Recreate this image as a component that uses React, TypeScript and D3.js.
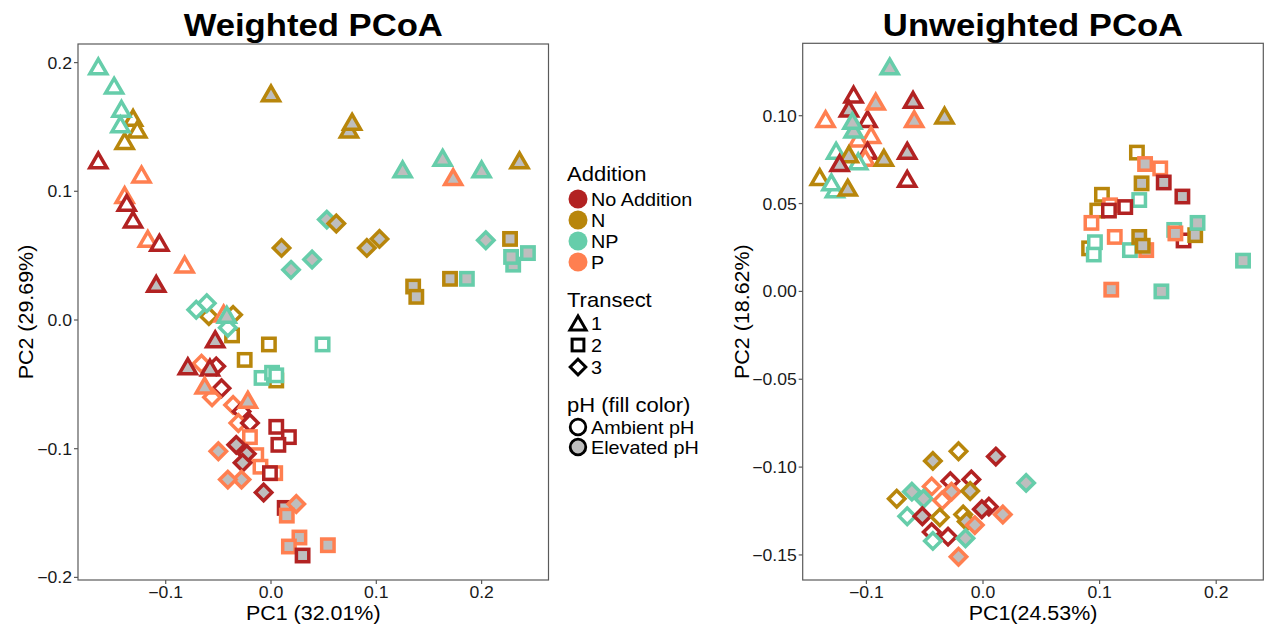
import React from "react";
import * as d3 from "d3";

type Pt = [number, number, string, number, string];

const additionLevels = ["No", "N", "NP", "P"];
const additionLabels = ["No Addition", "N", "NP", "P"];
const additionColors = ["#B22222", "#B8860B", "#66CDAA", "#FF7F50"];
const transectLevels = [1, 2, 3];
const phLevels = ["A", "E"];
const phLabels = ["Ambient pH", "Elevated pH"];
const phFills = ["#FFFFFF", "#BEBEBE"];

const weightedXTicks = [-0.1, 0, 0.1, 0.2];
const weightedYTicks = [-0.2, -0.1, 0, 0.1, 0.2];
const unweightedXTicks = [-0.1, 0, 0.1, 0.2];
const unweightedYTicks = [-0.15, -0.1, -0.05, 0, 0.05, 0.1];

// [PC1, PC2, addition, transect, pH]
const weightedPoints: Pt[] = [
  [-0.131, 0.157, "N", 1, "A"],
  [-0.127, 0.148, "N", 1, "A"],
  [-0.139, 0.139, "N", 1, "A"],
  [-0.164, 0.197, "NP", 1, "A"],
  [-0.149, 0.182, "NP", 1, "A"],
  [-0.142, 0.164, "NP", 1, "A"],
  [-0.143, 0.152, "NP", 1, "A"],
  [-0.164, 0.124, "No", 1, "A"],
  [-0.123, 0.113, "P", 1, "A"],
  [-0.139, 0.097, "P", 1, "A"],
  [-0.137, 0.091, "No", 1, "A"],
  [-0.131, 0.078, "No", 1, "A"],
  [-0.117, 0.063, "P", 1, "A"],
  [-0.106, 0.06, "No", 1, "A"],
  [-0.082, 0.043, "P", 1, "A"],
  [-0.109, 0.028, "No", 1, "E"],
  [0.0, 0.176, "N", 1, "E"],
  [0.074, 0.148, "N", 1, "E"],
  [0.077, 0.154, "N", 1, "E"],
  [0.236, 0.124, "N", 1, "E"],
  [0.125, 0.117, "NP", 1, "E"],
  [0.173, 0.111, "P", 1, "E"],
  [0.163, 0.126, "NP", 1, "E"],
  [0.2, 0.117, "NP", 1, "E"],
  [0.053, 0.078, "NP", 3, "E"],
  [0.062, 0.075, "N", 3, "E"],
  [0.01, 0.056, "N", 3, "E"],
  [0.039, 0.047, "NP", 3, "E"],
  [0.019, 0.039, "NP", 3, "E"],
  [0.091, 0.056, "N", 3, "E"],
  [0.103, 0.063, "N", 3, "E"],
  [0.204, 0.062, "NP", 3, "E"],
  [0.227, 0.063, "N", 2, "E"],
  [0.23, 0.043, "NP", 2, "E"],
  [0.228, 0.049, "NP", 2, "E"],
  [0.244, 0.052, "NP", 2, "E"],
  [0.135, 0.026, "N", 2, "E"],
  [0.138, 0.018, "N", 2, "E"],
  [0.17, 0.032, "N", 2, "E"],
  [0.186, 0.032, "NP", 2, "E"],
  [-0.059, 0.003, "N", 3, "A"],
  [-0.036, 0.004, "N", 3, "A"],
  [-0.037, -0.012, "N", 2, "A"],
  [-0.071, 0.008, "NP", 3, "A"],
  [-0.061, 0.013, "NP", 3, "A"],
  [-0.045, 0.005, "P", 1, "A"],
  [-0.041, -0.006, "NP", 3, "A"],
  [-0.042, 0.004, "NP", 1, "E"],
  [-0.002, -0.019, "N", 2, "A"],
  [-0.025, -0.031, "N", 2, "A"],
  [0.005, -0.047, "N", 2, "A"],
  [-0.009, -0.045, "NP", 2, "A"],
  [0.001, -0.041, "NP", 2, "A"],
  [0.005, -0.043, "NP", 2, "A"],
  [0.049, -0.019, "NP", 2, "A"],
  [-0.053, -0.015, "No", 1, "E"],
  [-0.066, -0.034, "P", 3, "A"],
  [-0.052, -0.036, "No", 3, "A"],
  [-0.079, -0.036, "No", 1, "E"],
  [-0.058, -0.037, "No", 1, "E"],
  [-0.047, -0.053, "No", 3, "A"],
  [-0.056, -0.06, "P", 3, "A"],
  [-0.063, -0.051, "P", 1, "E"],
  [-0.036, -0.066, "P", 3, "A"],
  [-0.028, -0.071, "No", 3, "A"],
  [-0.031, -0.08, "P", 3, "A"],
  [-0.02, -0.08, "No", 3, "A"],
  [-0.022, -0.062, "P", 1, "E"],
  [-0.02, -0.091, "P", 2, "A"],
  [0.005, -0.083, "No", 2, "A"],
  [0.017, -0.091, "No", 2, "A"],
  [0.007, -0.097, "No", 2, "A"],
  [-0.014, -0.105, "P", 2, "A"],
  [-0.01, -0.114, "P", 2, "A"],
  [0.004, -0.119, "P", 2, "A"],
  [-0.001, -0.119, "No", 2, "A"],
  [-0.033, -0.097, "No", 3, "E"],
  [-0.05, -0.102, "P", 3, "E"],
  [-0.023, -0.104, "No", 3, "E"],
  [-0.027, -0.111, "No", 3, "E"],
  [-0.028, -0.124, "P", 3, "E"],
  [-0.041, -0.124, "P", 3, "E"],
  [-0.007, -0.134, "No", 3, "E"],
  [0.013, -0.146, "No", 2, "E"],
  [0.024, -0.143, "P", 3, "E"],
  [0.015, -0.152, "P", 2, "E"],
  [0.027, -0.169, "P", 2, "E"],
  [0.017, -0.176, "P", 2, "E"],
  [0.054, -0.175, "P", 2, "E"],
  [0.03, -0.183, "No", 2, "E"],
];

const unweightedPoints: Pt[] = [
  [-0.111, 0.112, "No", 1, "A"],
  [-0.099, 0.098, "No", 1, "A"],
  [-0.135, 0.098, "P", 1, "A"],
  [-0.096, 0.089, "P", 1, "A"],
  [-0.107, 0.087, "P", 1, "A"],
  [-0.126, 0.08, "NP", 1, "A"],
  [-0.099, 0.08, "No", 1, "A"],
  [-0.101, 0.076, "P", 1, "A"],
  [-0.107, 0.074, "NP", 1, "A"],
  [-0.14, 0.065, "N", 1, "A"],
  [-0.127, 0.058, "NP", 1, "A"],
  [-0.13, 0.062, "NP", 1, "A"],
  [-0.065, 0.064, "No", 1, "A"],
  [-0.08, 0.128, "NP", 1, "E"],
  [-0.092, 0.108, "P", 1, "E"],
  [-0.06, 0.109, "No", 1, "E"],
  [-0.115, 0.104, "No", 1, "E"],
  [-0.059, 0.098, "P", 1, "E"],
  [-0.033, 0.1, "N", 1, "E"],
  [-0.111, 0.092, "NP", 1, "E"],
  [-0.112, 0.097, "NP", 1, "E"],
  [-0.065, 0.08, "No", 1, "E"],
  [-0.115, 0.078, "N", 1, "E"],
  [-0.085, 0.076, "N", 1, "E"],
  [-0.123, 0.073, "No", 1, "E"],
  [-0.116, 0.059, "N", 1, "E"],
  [0.132, 0.079, "N", 2, "A"],
  [0.152, 0.07, "P", 2, "A"],
  [0.139, 0.0725, "P", 2, "E"],
  [0.134, 0.052, "NP", 2, "A"],
  [0.136, 0.0615, "N", 2, "E"],
  [0.155, 0.062, "No", 2, "E"],
  [0.171, 0.054, "No", 2, "E"],
  [0.102, 0.055, "N", 2, "A"],
  [0.098, 0.046, "N", 2, "A"],
  [0.109, 0.049, "P", 2, "A"],
  [0.108, 0.046, "No", 2, "A"],
  [0.122, 0.048, "No", 2, "A"],
  [0.093, 0.039, "P", 2, "A"],
  [0.113, 0.031, "P", 2, "A"],
  [0.091, 0.0245, "N", 2, "A"],
  [0.095, 0.021, "NP", 2, "A"],
  [0.096, 0.028, "NP", 2, "A"],
  [0.126, 0.0235, "NP", 2, "A"],
  [0.134, 0.031, "N", 2, "E"],
  [0.14, 0.0235, "P", 2, "E"],
  [0.137, 0.026, "N", 2, "E"],
  [0.164, 0.035, "NP", 2, "A"],
  [0.172, 0.029, "No", 2, "A"],
  [0.165, 0.033, "P", 2, "E"],
  [0.182, 0.032, "N", 2, "E"],
  [0.184, 0.039, "NP", 2, "E"],
  [0.223, 0.0175, "NP", 2, "E"],
  [0.11, 0.001, "P", 2, "E"],
  [0.153, 0.0, "NP", 2, "E"],
  [-0.021, -0.091, "N", 3, "A"],
  [-0.043, -0.0965, "N", 3, "E"],
  [0.011, -0.094, "No", 3, "E"],
  [0.037, -0.109, "NP", 3, "E"],
  [-0.028, -0.108, "No", 3, "A"],
  [-0.01, -0.107, "No", 3, "A"],
  [-0.044, -0.111, "P", 3, "A"],
  [-0.027, -0.114, "P", 3, "E"],
  [-0.011, -0.1136, "N", 3, "E"],
  [-0.074, -0.118, "N", 3, "A"],
  [-0.061, -0.114, "NP", 3, "E"],
  [-0.051, -0.118, "NP", 3, "E"],
  [-0.035, -0.119, "P", 3, "A"],
  [-0.065, -0.128, "NP", 3, "A"],
  [-0.052, -0.128, "No", 3, "E"],
  [-0.037, -0.1286, "N", 3, "A"],
  [-0.017, -0.127, "N", 3, "A"],
  [0.005, -0.1225, "No", 3, "A"],
  [-0.001, -0.124, "No", 3, "E"],
  [0.017, -0.127, "P", 3, "E"],
  [-0.014, -0.131, "N", 3, "E"],
  [-0.007, -0.133, "P", 3, "E"],
  [-0.044, -0.137, "No", 3, "A"],
  [-0.03, -0.1396, "No", 3, "A"],
  [-0.043, -0.142, "NP", 3, "A"],
  [-0.015, -0.1405, "NP", 3, "E"],
  [-0.021, -0.151, "P", 3, "E"],
];

const FONT = "'Liberation Sans', Arial, Helvetica, sans-serif";
const SX = 1.1;

function T({ x, y, size, anchor = "middle", weight = "normal", rotate = 0, fill = "#000", children }: any) {
  const tr = `translate(${x},${y})${rotate ? ` rotate(${rotate})` : ""} scale(${SX},1)`;
  return (
    <text transform={tr} fontSize={size} textAnchor={anchor} fontWeight={weight} fontFamily={FONT} fill={fill}>
      {children}
    </text>
  );
}

function Marker({ x, y, shape, stroke, fill, sw = 3.5, scale = 1 }: any) {
  const common = { stroke, fill, strokeWidth: sw, strokeLinejoin: "miter" as const };
  if (shape === 1) {
    const s = 17 * scale;
    const h = s * 0.866;
    const d = `M${x},${y - h / 2}L${x + s / 2},${y + h / 2}L${x - s / 2},${y + h / 2}Z`;
    return <path d={d} {...common} />;
  }
  if (shape === 2) {
    const a = 12.4 * scale;
    return <rect x={x - a / 2} y={y - a / 2} width={a} height={a} {...common} />;
  }
  const r = 8.2 * scale;
  const d = `M${x},${y - r}L${x + r},${y}L${x},${y + r}L${x - r},${y}Z`;
  return <path d={d} {...common} />;
}

const colorScale = d3.scaleOrdinal<string, string>().domain(additionLevels).range(additionColors);
const fillScale = d3.scaleOrdinal<string, string>().domain(phLevels).range(phFills);

function Panel({ points, xDomain, yDomain, xRange, yRange, xTicks, yTicks, yFmt, title, xTitle, yTitle, yTitleX }: any) {
  const x = d3.scaleLinear().domain(xDomain).range(xRange);
  const y = d3.scaleLinear().domain(yDomain).range(yRange);
  const fx = d3.format(".1f");
  const fy = d3.format(yFmt);
  const [x0, x1] = xRange;
  const [y0, y1] = yRange; // y0 bottom, y1 top
  const cx = (x0 + x1) / 2;
  const axisColor = "#5a5a5a";
  return (
    <g>
      <T x={cx} y={36} size={31.5} weight="bold">{title}</T>
      <rect x={x0} y={y1} width={x1 - x0} height={y0 - y1} fill="#fff" stroke={axisColor} strokeWidth={1.2} />
      {xTicks.map((t: number) => (
        <g key={"x" + t}>
          <line x1={x(t)} x2={x(t)} y1={y0} y2={y0 + 4} stroke={axisColor} strokeWidth={1.2} />
          <T x={x(t)} y={y0 + 18} size={16} fill="#1a1a1a">{fx(t)}</T>
        </g>
      ))}
      {yTicks.map((t: number) => (
        <g key={"y" + t}>
          <line x1={x0 - 4} x2={x0} y1={y(t)} y2={y(t)} stroke={axisColor} strokeWidth={1.2} />
          <T x={x0 - 6} y={y(t) + 6} size={16} anchor="end" fill="#1a1a1a">{fy(t)}</T>
        </g>
      ))}
      <T x={cx} y={620} size={19.5}>{xTitle}</T>
      <T x={yTitleX} y={(y0 + y1) / 2} size={19.5} rotate={-90}>{yTitle}</T>
      {points.map((p: Pt, i: number) => (
        <Marker key={i} x={x(p[0])} y={y(p[1])} shape={p[3]} stroke={colorScale(p[2])} fill={fillScale(p[4])} />
      ))}
    </g>
  );
}

function Legend() {
  const lx = 578;
  const tx = 591;
  return (
    <g>
      <T x={567} y={181} size={20} anchor="start">Addition</T>
      {additionLabels.map((lab, i) => {
        const cy = [199, 220, 241, 262][i];
        return (
          <g key={lab}>
            <circle cx={lx} cy={cy} r={9.5} fill={additionColors[i]} />
            <T x={tx} y={cy + 6.5} size={18} anchor="start">{lab}</T>
          </g>
        );
      })}
      <T x={567} y={307} size={20} anchor="start">Transect</T>
      {transectLevels.map((t, i) => {
        const cy = [323, 345, 367][i];
        return (
          <g key={t}>
            <Marker x={lx} y={cy} shape={t} stroke="#000" fill="none" sw={3} scale={0.95} />
            <T x={tx} y={cy + 6.5} size={18} anchor="start">{String(t)}</T>
          </g>
        );
      })}
      <T x={567} y={412} size={20} anchor="start">pH (fill color)</T>
      {phLabels.map((lab, i) => {
        const cy = [427, 447][i];
        return (
          <g key={lab}>
            <circle cx={lx} cy={cy} r={7.8} fill={phFills[i]} stroke="#000" strokeWidth={2.8} />
            <T x={tx} y={cy + 6.5} size={18} anchor="start">{lab}</T>
          </g>
        );
      })}
    </g>
  );
}

export default function App() {
  return (
    <svg width={1264} height={628} style={{ position: "absolute", left: 0, top: 0, background: "#fff" }}>
      <rect width={1264} height={628} fill="#fff" />
      <Panel
        points={weightedPoints}
        xDomain={[-0.18329, 0.26353]}
        yDomain={[-0.20202, 0.21445]}
        xRange={[78, 548.5]}
        yRange={[580, 44]}
        xTicks={weightedXTicks}
        yTicks={weightedYTicks}
        yFmt=".1f"
        title="Weighted PCoA"
        xTitle="PC1 (32.01%)"
        yTitle="PC2 (29.69%)"
        yTitleX={33}
      />
      <Panel
        points={unweightedPoints}
        xDomain={[-0.15463, 0.24039]}
        yDomain={[-0.16426, 0.14121]}
        xRange={[802.7, 1263.3]}
        yRange={[580, 43.3]}
        xTicks={unweightedXTicks}
        yTicks={unweightedYTicks}
        yFmt=".2f"
        title="Unweighted PCoA"
        xTitle="PC1(24.53%)"
        yTitle="PC2 (18.62%)"
        yTitleX={749}
      />
      <Legend />
    </svg>
  );
}
